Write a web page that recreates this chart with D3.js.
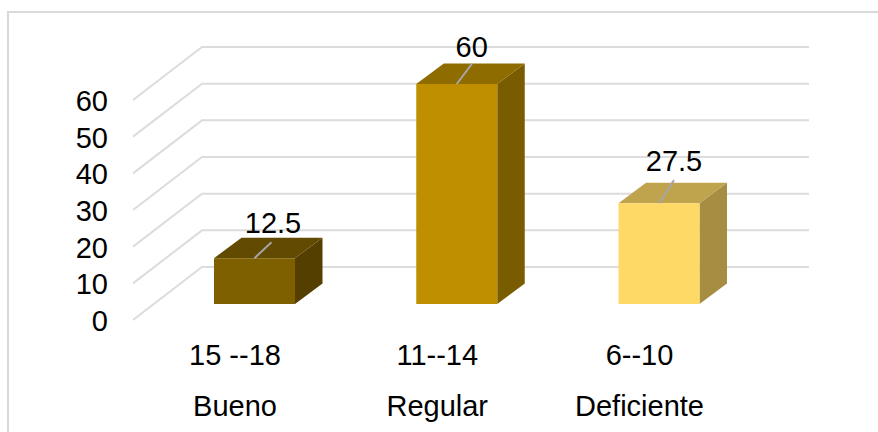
<!DOCTYPE html>
<html>
<head>
<meta charset="utf-8">
<script src="https://cdn.jsdelivr.net/npm/d3@7"></script>
<style>
  html, body { margin: 0; padding: 0; background: #fff; }
  svg { display: block; }
  text { font-family: "Liberation Sans", Arial, sans-serif; fill: #000; }
</style>
</head>
<body>
<svg id="chart" width="878" height="432"></svg>
<script>
// values
var ranges = ["15 --18", "11--14", "6--10"];
var levels = ["Bueno", "Regular", "Deficiente"];
var values = [12.5, 60, 27.5];
var yTicks = [0, 10, 20, 30, 40, 50, 60];

var frontColors = ["#7f6000", "#bf8f00", "#ffd966"];
var topColors = ["#624a00", "#8f6c00", "#bfa34d"];
var sideColors = ["#543f00", "#7a5c00", "#a68d42"];

var svg = d3.select("#chart");

// frame, only top and left fall inside the picture
svg.append("rect")
  .attr("x", 8).attr("y", 12)
  .attr("width", 880).attr("height", 440)
  .attr("fill", "#fff")
  .attr("stroke", "#d9d9d9")
  .attr("stroke-width", 2);

// wall is shifted from the front edge by this much
var wallDx = 69, wallDy = -53;
var depthDx = 27.5, depthDy = -20.5;
var baseOffset = 16; // bars stand a bit behind the front edge
var barWidth = 81;
var fontSize = 29;

var y = d3.scaleLinear().domain([0, 60]).range([320, 100]);
var x = d3.scalePoint().domain(ranges).range([254.5, 659]);

// gridlines: floor edge then back wall
yTicks.forEach(function (t) {
  var line = d3.line();
  svg.append("path")
    .attr("d", line([[133, y(t)], [133 + wallDx, y(t) + wallDy], [809, y(t) + wallDy]]))
    .attr("fill", "none")
    .attr("stroke", "#dcdcdc")
    .attr("stroke-width", 2);
});

// y axis labels
var yAxis = d3.axisLeft(y).tickValues(yTicks).tickSize(0).tickPadding(0);
var yAxisG = svg.append("g")
  .attr("transform", "translate(108,0)")
  .call(yAxis);
yAxisG.select(".domain").remove();
yAxisG.selectAll("text")
  .attr("font-family", null)
  .attr("dy", 10.5)
  .attr("font-size", fontSize)
  .style("font-size", fontSize + "px");

// label nudges per bar, the leaders are not parallel in the original
var labelDx = [18.5, 15, 15];
var labelDy = [-25, -27.5, -32.5];
var leaderTop = [[17, -16], [15, -20], [15, -23]];

// bars
values.forEach(function (v, i) {
  var x0 = x(ranges[i]) - barWidth / 2, x1 = x0 + barWidth;
  var yb = y(0) - baseOffset, yt = y(v) - baseOffset;
  var poly = function (pts, color) {
    svg.append("polygon")
      .attr("points", pts.map(function (p) { return p.join(","); }).join(" "))
      .attr("fill", color);
  };
  poly([[x1, yb], [x1 + depthDx, yb + depthDy], [x1 + depthDx, yt + depthDy], [x1, yt]], sideColors[i]);
  poly([[x0, yt], [x0 + depthDx, yt + depthDy], [x1 + depthDx, yt + depthDy], [x1, yt]], topColors[i]);
  poly([[x0, yb], [x1, yb], [x1, yt], [x0, yt]], frontColors[i]);

  // leader line + value label
  var cx = (x0 + x1) / 2;
  svg.append("line")
    .attr("x1", cx).attr("y1", yt)
    .attr("x2", cx + leaderTop[i][0]).attr("y2", yt + leaderTop[i][1])
    .attr("stroke", "#a6a6a6")
    .attr("stroke-width", 2);
  svg.append("text")
    .attr("x", cx + labelDx[i])
    .attr("y", yt + labelDy[i])
    .attr("text-anchor", "middle")
    .attr("font-size", fontSize)
    .text(v);

  // category labels, two rows
  svg.append("text")
    .attr("x", cx - 19.5).attr("y", 365)
    .attr("text-anchor", "middle").attr("font-size", fontSize)
    .text(ranges[i]);
  svg.append("text")
    .attr("x", cx - 19.5).attr("y", 416)
    .attr("text-anchor", "middle").attr("font-size", fontSize)
    .text(levels[i]);
});
</script>
</body>
</html>
